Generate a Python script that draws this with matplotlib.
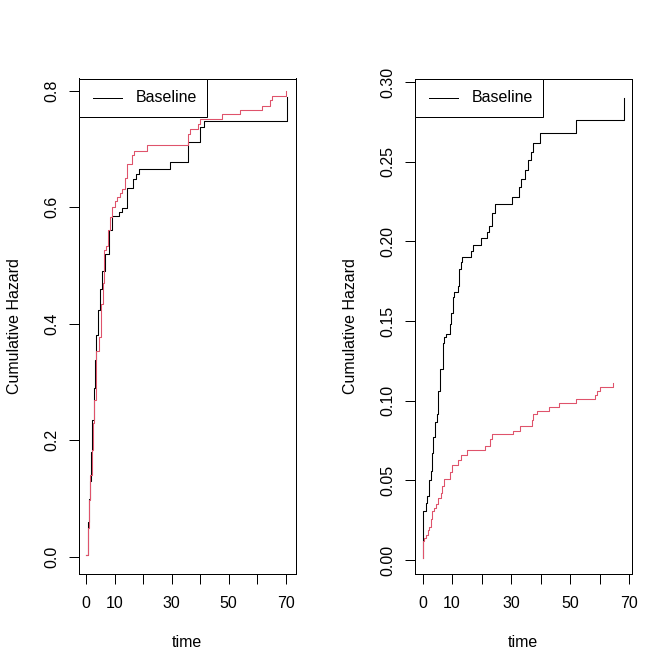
import numpy as np
import matplotlib.pyplot as plt
from matplotlib.patches import Rectangle

plt.rcParams['font.family'] = ['Liberation Sans', 'DejaVu Sans']
plt.rcParams['font.size'] = 12

RED = '#DF536B'

# left panel: cumulative hazard, baseline (black) and group (red)
t_left_base = [0, 0.5, 1.0, 1.3, 1.8, 2.2, 2.6, 3.0, 3.6, 4.2, 4.9, 5.6, 6.6,
               8.1, 9.2, 11.6, 12.4, 14.4, 16.3, 17.3, 18.6, 29.4, 35.6,
               40.1, 41.4, 70.6]
h_left_base = [0.003, 0.06, 0.10, 0.131, 0.18, 0.234, 0.29, 0.337, 0.38,
               0.423, 0.46, 0.491, 0.52, 0.56, 0.585, 0.591, 0.599, 0.633,
               0.649, 0.657, 0.666, 0.677, 0.711, 0.738, 0.747, 0.789]

t_left_grp = [0, 0.5, 1.05, 1.5, 1.9, 2.3, 2.7, 3.6, 4.6, 5.2, 6.0, 6.3, 6.9,
              7.7, 8.5, 8.9, 10.1, 10.9, 11.8, 12.6, 13.6, 14.2, 16.2, 16.9,
              21.5, 35.7, 36.4, 39.2, 40.1, 47.5, 54.0, 61.6, 64.5, 65.2,
              70.0]
h_left_grp = [0.003, 0.05, 0.097, 0.14, 0.183, 0.23, 0.269, 0.354, 0.377,
              0.434, 0.469, 0.526, 0.534, 0.56, 0.583, 0.601, 0.61, 0.617,
              0.624, 0.631, 0.65, 0.674, 0.689, 0.697, 0.707, 0.726, 0.734,
              0.743, 0.751, 0.76, 0.766, 0.773, 0.783, 0.791, 0.80]

# right panel
t_right_base = [0, 0.05, 0.45, 1.0, 1.6, 2.3, 2.8, 3.3, 3.6, 4.2, 4.8, 5.1,
                5.9, 6.8, 7.4, 7.8, 9.3, 9.8, 10.2, 10.6, 12.1, 12.5, 13.0,
                13.5, 16.4, 17.0, 19.8, 22.0, 22.5, 23.4, 24.4, 30.2, 32.8,
                33.4, 34.8, 35.7, 36.8, 37.6, 39.9, 52.1, 68.2]
h_right_base = [0.0015, 0.031, 0.031, 0.036, 0.040, 0.050, 0.056, 0.067,
                0.077, 0.087, 0.092, 0.106, 0.120, 0.136, 0.140, 0.142,
                0.148, 0.155, 0.165, 0.168, 0.172, 0.183, 0.187, 0.190,
                0.194, 0.198, 0.202, 0.206, 0.210, 0.218, 0.2235, 0.228,
                0.234, 0.239, 0.245, 0.251, 0.256, 0.262, 0.268, 0.276, 0.290]

t_right_grp = [0, 0.05, 0.45, 1.0, 1.7, 2.3, 2.7, 3.3, 4.0, 4.4, 5.1, 6.1,
               6.7, 7.4, 9.3, 10.1, 12.1, 12.9, 15.2, 21.2, 22.9, 23.6, 30.8,
               33.1, 37.0, 37.6, 38.7, 42.7, 46.4, 52.1, 58.3, 59.1, 60.3,
               64.4]
h_right_grp = [0.0015, 0.012, 0.014, 0.016, 0.019, 0.021, 0.026, 0.031,
               0.033, 0.035, 0.039, 0.042, 0.0465, 0.051, 0.055, 0.0595,
               0.063, 0.066, 0.069, 0.0716, 0.076, 0.079, 0.081, 0.084,
               0.088, 0.0915, 0.0936, 0.096, 0.0985, 0.101, 0.1035, 0.106,
               0.1087, 0.111]

x_ticks = [0, 10, 20, 30, 40, 50, 60, 70]
x_labels = ['0', '10', '', '30', '', '50', '', '70']
left_yticks = [0.0, 0.2, 0.4, 0.6, 0.8]
left_ylabels = ['0.0', '0.2', '0.4', '0.6', '0.8']
right_yticks = [0.00, 0.05, 0.10, 0.15, 0.20, 0.25, 0.30]
right_ylabels = ['0.00', '0.05', '0.10', '0.15', '0.20', '0.25', '0.30']

W = 672.0
fig = plt.figure(figsize=(7, 7), dpi=96)


def panel(x0, tb, hb, tg, hg, xlim, ylim, yticks, ylabels):
    ax = fig.add_axes([x0 / W, (W - 573.5) / W, 217.2 / W, 495.0 / W])
    ax.step(tb, hb, where='post', color='black', lw=0.8)
    ax.step(tg, hg, where='post', color=RED, lw=0.8)
    ax.set_xlim(*xlim)
    ax.set_ylim(*ylim)
    ax.set_xticks(x_ticks)
    ax.set_xticklabels(x_labels)
    ax.set_yticks(yticks)
    ax.set_yticklabels(ylabels, rotation=90, va='center')
    ax.tick_params(length=7.2, width=0.75, pad=7, labelsize=12)
    ax.tick_params(axis='x', pad=10)
    for s in ax.spines.values():
        s.set_linewidth(0.75)
    ax.set_xlabel('time', labelpad=18)
    ax.set_ylabel('Cumulative Hazard', labelpad=17)

    # legend box, R style
    bw, bh = 128.5 / 217.2, 38.7 / 495.0
    ax.add_patch(Rectangle((0, 1 - bh), bw, bh, transform=ax.transAxes,
                           facecolor='white', edgecolor='black', lw=0.75,
                           zorder=5, clip_on=False))
    ax.plot([0.068, 0.20], [1 - bh / 2, 1 - bh / 2], transform=ax.transAxes,
            color='black', lw=0.75, zorder=6)
    ax.text(0.265, 1 - bh / 2, 'Baseline', transform=ax.transAxes,
            va='center', ha='left', fontsize=12, zorder=6)
    return ax


panel(78.5, t_left_base, h_left_base, t_left_grp, h_left_grp,
      (-2.7, 73.5), (-0.0285, 0.8206), left_yticks, left_ylabels)
panel(414.5, t_right_base, h_right_base, t_right_grp, h_right_grp,
      (-2.73, 70.9), (-0.0084, 0.3023), right_yticks, right_ylabels)

plt.savefig('out.png', dpi=96)
